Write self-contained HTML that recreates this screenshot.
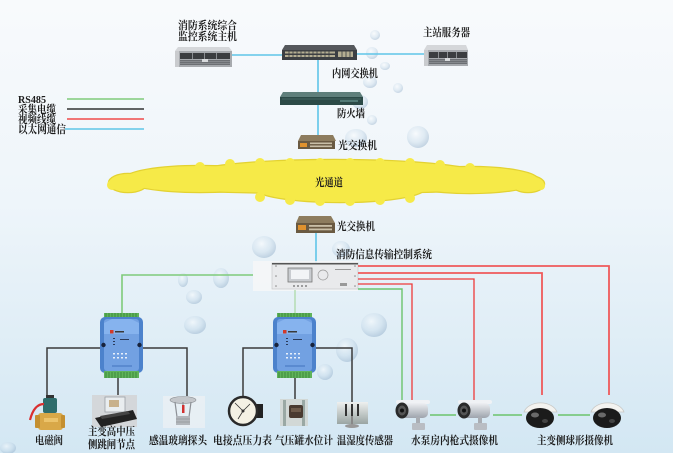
<!DOCTYPE html>
<html><head><meta charset="utf-8">
<style>
html,body{margin:0;padding:0;background:#eef5fa;}
body{width:673px;height:453px;overflow:hidden;}
svg{display:block;}
text{font-family:"Liberation Serif","Noto Serif CJK SC",serif;font-size:11px;fill:#1c1c1c;font-weight:bold;}
</style></head><body>
<svg width="673" height="453" viewBox="0 0 673 453" xmlns="http://www.w3.org/2000/svg">
<defs>
<linearGradient id="bg" x1="0" y1="0" x2="0" y2="1">
<stop offset="0" stop-color="#f8fafc"/>
<stop offset="0.45" stop-color="#eef5fa"/>
<stop offset="1" stop-color="#d3e7f3"/>
</linearGradient>
<radialGradient id="bub" cx="0.4" cy="0.35" r="0.7">
<stop offset="0" stop-color="#ffffff" stop-opacity="0.9"/>
<stop offset="0.55" stop-color="#c4d8e8" stop-opacity="0.7"/>
<stop offset="1" stop-color="#7f9fbe" stop-opacity="0.8"/>
</radialGradient>
<linearGradient id="cam" x1="0" y1="0" x2="0" y2="1">
<stop offset="0" stop-color="#eef0f3"/>
<stop offset="1" stop-color="#9ea4ad"/>
</linearGradient>
<linearGradient id="th" x1="0" y1="0" x2="0" y2="1">
<stop offset="0" stop-color="#eef0ef"/>
<stop offset="1" stop-color="#9aa5a3"/>
</linearGradient>
<g id="mod">
<rect x="104" y="313" width="35" height="6" fill="#5fb35a"/>
<g stroke="#2f7a2f" stroke-width="0.7">
<line x1="106" y1="313" x2="106" y2="318"/><line x1="109" y1="313" x2="109" y2="318"/><line x1="112" y1="313" x2="112" y2="318"/><line x1="115" y1="313" x2="115" y2="318"/><line x1="118" y1="313" x2="118" y2="318"/><line x1="121" y1="313" x2="121" y2="318"/><line x1="124" y1="313" x2="124" y2="318"/><line x1="127" y1="313" x2="127" y2="318"/><line x1="130" y1="313" x2="130" y2="318"/><line x1="133" y1="313" x2="133" y2="318"/><line x1="136" y1="313" x2="136" y2="318"/>
</g>
<rect x="100" y="317" width="43" height="56" rx="5" fill="#4c82cc"/>
<rect x="104" y="319" width="35" height="52" rx="3" fill="#72a1e2"/>
<polygon points="104,323 112,319 131,319 139,323 139,334 104,334" fill="#86b3ee"/>
<circle cx="103.5" cy="345" r="2.2" fill="#18233c"/>
<circle cx="139.5" cy="345" r="2.2" fill="#18233c"/>
<rect x="110" y="330" width="3.5" height="3.5" fill="#d23a2a"/>
<rect x="115" y="331" width="9" height="1.5" fill="#3a3a3a"/>
<rect x="113" y="338" width="2" height="1" fill="#2a3a5a"/><rect x="113" y="341" width="2" height="1" fill="#2a3a5a"/><rect x="113" y="344" width="2" height="1" fill="#2a3a5a"/>
<rect x="120" y="339" width="9" height="1" fill="#2a3a5a"/>
<g fill="#e8f0fb"><rect x="113" y="353" width="2" height="1.5"/><rect x="117" y="353" width="2" height="1.5"/><rect x="121" y="353" width="2" height="1.5"/><rect x="125" y="353" width="2" height="1.5"/><rect x="113" y="357" width="2" height="1.5"/><rect x="117" y="357" width="2" height="1.5"/><rect x="121" y="357" width="2" height="1.5"/><rect x="125" y="357" width="2" height="1.5"/></g>
<rect x="112" y="365" width="20" height="2" fill="#5a8ad0"/>
<rect x="104" y="371" width="35" height="7" fill="#5fb35a"/>
<g stroke="#2f7a2f" stroke-width="0.7">
<line x1="106" y1="372" x2="106" y2="378"/><line x1="109" y1="372" x2="109" y2="378"/><line x1="112" y1="372" x2="112" y2="378"/><line x1="115" y1="372" x2="115" y2="378"/><line x1="118" y1="372" x2="118" y2="378"/><line x1="121" y1="372" x2="121" y2="378"/><line x1="124" y1="372" x2="124" y2="378"/><line x1="127" y1="372" x2="127" y2="378"/><line x1="130" y1="372" x2="130" y2="378"/><line x1="133" y1="372" x2="133" y2="378"/><line x1="136" y1="372" x2="136" y2="378"/>
</g>
</g>
<g id="bullet">
<rect x="396" y="400" width="34" height="4" rx="2" fill="#f0f2f5"/>
<rect x="398" y="403" width="30" height="15" rx="5" fill="url(#cam)"/>
<ellipse cx="402" cy="410.5" rx="6.5" ry="8" fill="#2a2a2a"/>
<ellipse cx="402" cy="410.5" rx="4" ry="5" fill="#555"/>
<circle cx="402" cy="410.5" r="2" fill="#111"/>
<rect x="416" y="417" width="4" height="8" fill="#a9adb3"/>
<rect x="412" y="423" width="13" height="7" rx="1" fill="#b9bdc3"/>
</g>
<g id="dome">
<path d="M524,412 A17,12 0 0 1 557,412 Z" fill="#f3f3f0" stroke="#c8c8c4" stroke-width="0.8"/>
<ellipse cx="540" cy="418" rx="14" ry="10" fill="#1b1b1b"/>
<ellipse cx="535" cy="415" rx="4" ry="2.5" fill="#6a6a6a"/>
<ellipse cx="545" cy="421" rx="3" ry="2" fill="#444"/>
</g>
</defs>
<rect width="673" height="453" fill="url(#bg)"/>

<!-- bubbles -->
<g opacity="0.55">
<ellipse cx="375" cy="35" rx="5" ry="5" fill="url(#bub)"/>
<ellipse cx="372" cy="53" rx="6" ry="6" fill="url(#bub)"/>
<ellipse cx="385" cy="66" rx="5" ry="4" fill="url(#bub)"/>
<ellipse cx="370" cy="82" rx="7" ry="6" fill="url(#bub)"/>
<ellipse cx="398" cy="88" rx="5" ry="5" fill="url(#bub)"/>
<ellipse cx="360" cy="102" rx="8" ry="7" fill="url(#bub)"/>
<ellipse cx="372" cy="120" rx="5" ry="5" fill="url(#bub)"/>
<ellipse cx="356" cy="138" rx="11" ry="9" fill="url(#bub)"/>
<ellipse cx="418" cy="137" rx="11" ry="11" fill="url(#bub)"/>
<ellipse cx="264" cy="247" rx="12" ry="11" fill="url(#bub)"/>
<ellipse cx="341" cy="249" rx="9" ry="8" fill="url(#bub)"/>
<ellipse cx="183" cy="280" rx="5" ry="7" fill="url(#bub)"/>
<ellipse cx="221" cy="278" rx="8" ry="10" fill="url(#bub)"/>
<ellipse cx="194" cy="297" rx="8" ry="7" fill="url(#bub)"/>
<ellipse cx="195" cy="325" rx="11" ry="9" fill="url(#bub)"/>
<ellipse cx="374" cy="325" rx="13" ry="12" fill="url(#bub)"/>
<ellipse cx="347" cy="350" rx="11" ry="12" fill="url(#bub)"/>
<ellipse cx="325" cy="372" rx="8" ry="8" fill="url(#bub)"/>
<ellipse cx="8" cy="448" rx="8" ry="6" fill="url(#bub)"/>
</g>

<!-- legend -->
<text x="18" y="103" textLength="28" lengthAdjust="spacingAndGlyphs">RS485</text>
<text x="18" y="113" textLength="38" lengthAdjust="spacingAndGlyphs">采集电缆</text>
<text x="18" y="123" textLength="38" lengthAdjust="spacingAndGlyphs">视频线缆</text>
<text x="18" y="133" textLength="48" lengthAdjust="spacingAndGlyphs">以太网通信</text>
<line x1="67" y1="99" x2="144" y2="99" stroke="#7fcb7a" stroke-width="1.6"/>
<line x1="67" y1="109" x2="144" y2="109" stroke="#333" stroke-width="1.6"/>
<line x1="67" y1="119" x2="144" y2="119" stroke="#f04a4a" stroke-width="1.6"/>
<line x1="65" y1="129" x2="144" y2="129" stroke="#5fc5e8" stroke-width="1.6"/>

<!-- top network lines -->
<line x1="232" y1="55" x2="283" y2="55" stroke="#5fc5e8" stroke-width="1.6"/>
<line x1="355" y1="54" x2="424" y2="54" stroke="#5fc5e8" stroke-width="1.6"/>
<line x1="318" y1="60" x2="318" y2="136" stroke="#5fc5e8" stroke-width="1.6"/>

<!-- server 1 -->
<text x="178" y="29" textLength="59" lengthAdjust="spacingAndGlyphs">消防系统综合</text>
<text x="178" y="40" textLength="59" lengthAdjust="spacingAndGlyphs">监控系统主机</text>
<polygon points="178,47 229,47 232,51 175,51" fill="#d5d7da"/>
<rect x="175" y="51" width="57" height="16" fill="#a7aaae"/>
<rect x="175" y="51" width="4" height="16" fill="#c9cbce"/>
<rect x="180" y="53" width="50" height="6" fill="#3b3d40"/>
<g fill="#8a8d91"><rect x="192" y="53" width="1" height="6"/><rect x="204" y="53" width="1" height="6"/><rect x="216" y="53" width="1" height="6"/></g>
<rect x="180" y="60" width="50" height="5" fill="#6c6f73"/>
<g stroke="#9ea1a5" stroke-width="0.6"><line x1="180" y1="61.5" x2="230" y2="61.5"/><line x1="180" y1="63.5" x2="230" y2="63.5"/></g>
<rect x="202" y="59" width="6" height="3" fill="#d8dadc"/>

<!-- switch 1 -->
<polygon points="285,45 354,45 357,50 282,50" fill="#55585c"/>
<rect x="282" y="50" width="75" height="10" fill="#3c3f43"/>
<g fill="#b5ae92">
<rect x="285" y="51.5" width="50" height="2"/><rect x="285" y="55" width="50" height="2"/>
<rect x="338" y="51.5" width="15" height="5.5"/>
</g>
<g stroke="#3c3f43" stroke-width="0.8">
<line x1="289" y1="51" x2="289" y2="58"/><line x1="293" y1="51" x2="293" y2="58"/><line x1="297" y1="51" x2="297" y2="58"/><line x1="301" y1="51" x2="301" y2="58"/><line x1="305" y1="51" x2="305" y2="58"/><line x1="309" y1="51" x2="309" y2="58"/><line x1="313" y1="51" x2="313" y2="58"/><line x1="317" y1="51" x2="317" y2="58"/><line x1="321" y1="51" x2="321" y2="58"/><line x1="325" y1="51" x2="325" y2="58"/><line x1="329" y1="51" x2="329" y2="58"/><line x1="342" y1="51" x2="342" y2="58"/><line x1="346" y1="51" x2="346" y2="58"/><line x1="350" y1="51" x2="350" y2="58"/>
</g>
<text x="332" y="77" textLength="46" lengthAdjust="spacingAndGlyphs">内网交换机</text>

<!-- server 2 -->
<text x="423" y="36" textLength="47" lengthAdjust="spacingAndGlyphs">主站服务器</text>
<polygon points="427,45 466,45 468,50 424,50" fill="#d5d7da"/>
<rect x="424" y="50" width="44" height="16" fill="#a7aaae"/>
<rect x="424" y="50" width="4" height="16" fill="#c9cbce"/>
<rect x="429" y="52" width="38" height="6" fill="#3b3d40"/>
<g fill="#8a8d91"><rect x="438" y="52" width="1" height="6"/><rect x="447" y="52" width="1" height="6"/><rect x="456" y="52" width="1" height="6"/></g>
<rect x="429" y="59" width="38" height="5" fill="#6c6f73"/>
<g stroke="#9ea1a5" stroke-width="0.6"><line x1="429" y1="60.5" x2="467" y2="60.5"/><line x1="429" y1="62.5" x2="467" y2="62.5"/></g>
<rect x="445" y="58" width="5" height="3" fill="#d8dadc"/>

<!-- firewall -->
<polygon points="283,92 360,92 363,97 280,97" fill="#5f7f7b"/>
<rect x="280" y="97" width="83" height="8" fill="#2c4a47"/>
<line x1="282" y1="99" x2="361" y2="99" stroke="#4c6e6a" stroke-width="0.8"/>
<rect x="340" y="100" width="18" height="2" fill="#527a76"/>
<text x="337" y="117" textLength="28" lengthAdjust="spacingAndGlyphs">防火墙</text>

<!-- optical switch 1 -->
<polygon points="301,135 333,135 336,141 298,141" fill="#8d7c5e"/>
<rect x="298" y="141" width="37" height="8" fill="#6a5a42"/>
<rect x="300" y="143" width="7" height="4" fill="#e0922e"/>
<g fill="#c9bfa7"><rect x="310" y="142.5" width="22" height="1.6"/><rect x="310" y="145.5" width="22" height="1.6"/></g>
<text x="338" y="149" textLength="39" lengthAdjust="spacingAndGlyphs">光交换机</text>

<!-- cloud -->
<g fill="#e3d232" stroke="#e3d232" stroke-width="2.5">
<ellipse cx="327" cy="182" rx="214" ry="11"/>
<ellipse cx="335" cy="177" rx="152" ry="17"/>
<ellipse cx="340" cy="188" rx="85" ry="14"/>
<ellipse cx="200" cy="179" rx="75" ry="13"/>
<ellipse cx="470" cy="180" rx="68" ry="13"/>
<ellipse cx="128" cy="183" rx="19" ry="9"/>
<ellipse cx="528" cy="184" rx="16" ry="8"/>
</g>
<g fill="#f6ea48">
<ellipse cx="327" cy="182" rx="214" ry="11"/>
<ellipse cx="335" cy="177" rx="152" ry="17"/>
<ellipse cx="340" cy="188" rx="85" ry="14"/>
<ellipse cx="200" cy="179" rx="75" ry="13"/>
<ellipse cx="470" cy="180" rx="68" ry="13"/>
<ellipse cx="128" cy="183" rx="19" ry="9"/>
<ellipse cx="528" cy="184" rx="16" ry="8"/>
<circle cx="200" cy="167" r="5"/><circle cx="230" cy="164" r="5"/><circle cx="260" cy="163" r="5"/><circle cx="290" cy="163" r="5"/><circle cx="320" cy="163" r="5"/><circle cx="350" cy="163" r="5"/><circle cx="380" cy="163" r="5"/><circle cx="410" cy="163" r="5"/><circle cx="440" cy="165" r="5"/><circle cx="470" cy="168" r="5"/>
<circle cx="260" cy="197" r="5"/><circle cx="290" cy="200" r="5"/><circle cx="320" cy="201" r="5"/><circle cx="350" cy="201" r="5"/><circle cx="380" cy="200" r="5"/><circle cx="410" cy="198" r="5"/>
<circle cx="112" cy="185" r="5"/><circle cx="541" cy="186" r="4"/>
</g>
<text x="315" y="186" textLength="28" lengthAdjust="spacingAndGlyphs">光通道</text>

<!-- optical switch 2 -->
<polygon points="299,216 331,216 335,223 296,223" fill="#8d7c5e"/>
<rect x="296" y="223" width="39" height="10" fill="#6a5a42"/>
<rect x="298" y="225" width="8" height="5" fill="#e0922e"/>
<g fill="#c9bfa7"><rect x="309" y="225" width="23" height="1.8"/><rect x="309" y="228.5" width="23" height="1.8"/></g>
<text x="337" y="230" textLength="38" lengthAdjust="spacingAndGlyphs">光交换机</text>
<line x1="316" y1="233" x2="316" y2="263" stroke="#5fc5e8" stroke-width="1.6"/>

<!-- control panel -->
<text x="336" y="258" textLength="96" lengthAdjust="spacingAndGlyphs">消防信息传输控制系统</text>
<rect x="253" y="261" width="105" height="30" fill="#f6f7f8" opacity="0.85"/>
<rect x="272" y="263" width="86" height="26" fill="#e9eaec" stroke="#c6c8cb" stroke-width="0.7"/>
<rect x="272" y="263" width="86" height="1.5" fill="#555"/>
<rect x="288" y="268" width="24" height="14" fill="#c9ccd0" stroke="#777" stroke-width="0.8"/>
<rect x="291" y="270" width="18" height="9" fill="#f2f4f6"/>
<g fill="#666"><circle cx="294" cy="286" r="0.9"/><circle cx="298" cy="286" r="0.9"/><circle cx="302" cy="286" r="0.9"/><circle cx="306" cy="286" r="0.9"/></g>
<circle cx="323" cy="275" r="5" fill="none" stroke="#999" stroke-width="0.7"/>
<rect x="335" y="269" width="16" height="1" fill="#999"/>
<rect x="340" y="283" width="7" height="3" fill="#999"/>
<g fill="#888"><circle cx="276" cy="266" r="0.8"/><circle cx="276" cy="276" r="0.8"/><circle cx="276" cy="286" r="0.8"/><circle cx="355" cy="266" r="0.8"/><circle cx="355" cy="276" r="0.8"/><circle cx="355" cy="286" r="0.8"/></g>

<!-- RS485 to module 1 -->
<polyline points="253,275 122,275 122,314" fill="none" stroke="#7fcb7a" stroke-width="1.6"/>
<line x1="295" y1="290" x2="295" y2="314" stroke="#a8d8a2" stroke-width="1.2"/>

<!-- red video lines -->
<g fill="none" stroke="#ef5a5a" stroke-width="1.8">
<polyline points="358,266 609,266 609,395"/>
<polyline points="358,273 542,273 542,395"/>
</g>
<g fill="none" stroke="#ee3a3a" stroke-width="1.3">
<polyline points="358,279 474,279 474,400"/>
<polyline points="358,284 412,284 412,402"/>
</g>
<polyline points="358,289 402,289 402,403" fill="none" stroke="#6cc46c" stroke-width="1.4"/>

<!-- black lines from modules -->
<g fill="none" stroke="#3a3a3a" stroke-width="1.5">
<polyline points="100,348 47,348 47,396"/>
<line x1="118" y1="378" x2="118" y2="396"/>
<polyline points="143,348 187,348 187,396"/>
<polyline points="273,348 243,348 243,397"/>
<line x1="295" y1="378" x2="295" y2="401"/>
<polyline points="315,348 352,348 352,403"/>
</g>

<!-- modules -->
<use href="#mod"/>
<use href="#mod" transform="translate(173,0)"/>

<!-- camera interconnect -->
<g stroke="#6cc46c" stroke-width="1.4">
<line x1="430" y1="415" x2="456" y2="415"/>
<line x1="493" y1="415" x2="522" y2="415"/>
<line x1="558" y1="415" x2="590" y2="415"/>
</g>
<use href="#bullet"/>
<use href="#bullet" transform="translate(62,0)"/>
<use href="#dome"/>
<use href="#dome" transform="translate(67,0)"/>

<!-- solenoid valve -->
<rect x="46" y="395" width="8" height="4" fill="#333"/>
<rect x="43" y="398" width="14" height="15" rx="2" fill="#2f6d6c"/>
<rect x="38" y="413" width="25" height="17" rx="3" fill="#d9a848"/>
<rect x="35" y="415" width="5" height="13" rx="1" fill="#c48f30"/>
<rect x="61" y="415" width="4" height="13" rx="1" fill="#c48f30"/>
<rect x="44" y="418" width="14" height="4" fill="#ecc36a"/>
<path d="M44,404 C36,404 32,412 30,420" fill="none" stroke="#d93030" stroke-width="2.2"/>

<!-- relay -->
<rect x="92" y="395" width="45" height="32" fill="#d4d7da"/>
<rect x="105" y="397" width="20" height="15" fill="#e9edef" stroke="#9aa0a5" stroke-width="0.8"/>
<rect x="109" y="400" width="10" height="7" fill="#c8b08a"/>
<polygon points="95,418 133,410 137,419 101,427" fill="#222"/>
<polygon points="100,416 128,411 130,414 102,419" fill="#444"/>

<!-- sprinkler -->
<rect x="163" y="396" width="42" height="32" fill="#eef1f3" opacity="0.7"/>
<ellipse cx="183" cy="400" rx="13" ry="3.5" fill="#c3c6ca" stroke="#8a8e93" stroke-width="0.6"/>
<g stroke="#8d9196" stroke-width="1.2"><line x1="175" y1="402" x2="177" y2="417"/><line x1="191" y1="402" x2="189" y2="417"/><line x1="183" y1="402" x2="183" y2="406"/></g>
<rect x="182" y="405" width="2.5" height="8" fill="#d23030"/>
<rect x="176" y="416" width="14" height="9" fill="#b2b6bb"/>
<g stroke="#8a8e93" stroke-width="0.6"><line x1="176" y1="419" x2="190" y2="419"/><line x1="176" y1="422" x2="190" y2="422"/></g>

<!-- pressure gauge -->
<rect x="254" y="404" width="9" height="14" fill="#222"/>
<circle cx="243" cy="411" r="14" fill="#f4f1e4" stroke="#2a2a2a" stroke-width="2.5"/>
<g stroke="#333" stroke-width="0.8"><line x1="243" y1="411" x2="235" y2="403"/><line x1="243" y1="411" x2="250" y2="404"/><line x1="243" y1="411" x2="238" y2="419"/></g>
<circle cx="243" cy="411" r="1.5" fill="#333"/>

<!-- level gauge -->
<rect x="280" y="399" width="28" height="27" fill="#d2d8d6"/>
<rect x="283" y="400" width="3" height="26" fill="#9aa8a4"/>
<rect x="302" y="400" width="3" height="26" fill="#9aa8a4"/>
<rect x="289" y="405" width="14" height="13" rx="2" fill="#4a3a30"/>
<rect x="291" y="408" width="10" height="4" fill="#6e5a4a"/>

<!-- temp/humidity sensor -->
<rect x="337" y="402" width="31" height="22" fill="url(#th)"/>
<g fill="#333"><rect x="345" y="404" width="2" height="12"/><rect x="351" y="404" width="2" height="12"/><rect x="357" y="404" width="2" height="12"/></g>
<rect x="351" y="416" width="2" height="9" fill="#888"/>
<ellipse cx="352" cy="426" rx="7" ry="2" fill="#999"/>

<!-- bottom labels -->
<text x="35" y="444" textLength="28" lengthAdjust="spacingAndGlyphs">电磁阀</text>
<text x="88" y="435" textLength="47" lengthAdjust="spacingAndGlyphs">主变高中压</text>
<text x="88" y="448" textLength="47" lengthAdjust="spacingAndGlyphs">侧跳闸节点</text>
<text x="149" y="444" textLength="58" lengthAdjust="spacingAndGlyphs">感温玻璃探头</text>
<text x="213" y="444" textLength="59" lengthAdjust="spacingAndGlyphs">电接点压力表</text>
<text x="275" y="444" textLength="58" lengthAdjust="spacingAndGlyphs">气压罐水位计</text>
<text x="337" y="444" textLength="56" lengthAdjust="spacingAndGlyphs">温湿度传感器</text>
<text x="411" y="444" textLength="87" lengthAdjust="spacingAndGlyphs">水泵房内枪式摄像机</text>
<text x="537" y="444" textLength="76" lengthAdjust="spacingAndGlyphs">主变侧球形摄像机</text>
</svg>
</body></html>
